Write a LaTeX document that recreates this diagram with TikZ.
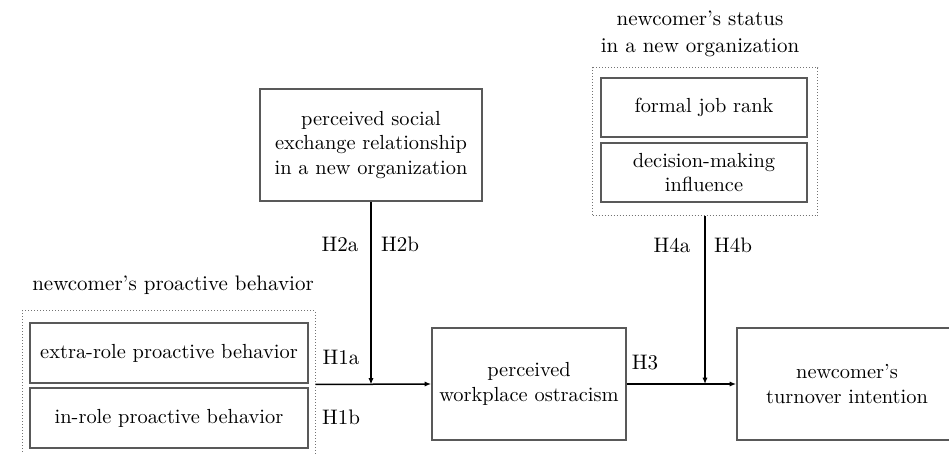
\documentclass[tikz,border=0pt]{standalone}
\usetikzlibrary{arrows.meta}
\usetikzlibrary{positioning}

\tikzset{
  varbox/.style={draw=black!65, line width=0.9pt, align=center, inner sep=0pt,
    font=\fontsize{10.2}{12.3}\selectfont},
  grpbox/.style={draw=black!55, densely dotted, line width=0.5pt, inner sep=0pt},
  hyp/.style={font=\fontsize{10.5}{12}\selectfont, inner sep=0pt},
  grplabel/.style={font=\fontsize{10.5}{13.5}\selectfont, align=center, inner sep=0pt},
  link/.style={draw=black, line width=0.75pt, -{Latex[length=3.2pt,width=2.6pt]}}
}

\begin{document}
\begin{tikzpicture}[x=0.5pt, y=-0.5pt]
        \useasboundingbox (0, 0) rectangle (949, 454);

        % proactive behavior group
        \node [grplabel] (proLbl) at (173, 285) {newcomer's proactive behavior};
        \node [grpbox, minimum width=146.5pt, minimum height=73.5pt] (proGrp) at (168.5, 384.5) {};
        \node [varbox, minimum width=139pt, minimum height=30pt] (extra) at (169, 353) {extra-role proactive behavior};
        \node [varbox, minimum width=139pt, minimum height=30pt] (inrole) at (169, 418) {in-role proactive behavior};
        \node [hyp] (h1a) at (341, 357) {H1a};
        \node [hyp] (h1b) at (341, 417) {H1b};

        % social exchange moderator
        \node [varbox, minimum width=111pt, minimum height=56pt] (social) at (371, 145)
            {perceived social\\exchange relationship\\in a new organization};
        \node [hyp] (h2a) at (340, 244) {H2a};
        \node [hyp] (h2b) at (400, 244) {H2b};

        % mediator and outcome
        \node [varbox, minimum width=97pt, minimum height=56pt] (ostr) at (529, 384)
            {perceived\\workplace ostracism};
        \node [hyp] (h3) at (645, 363) {H3};
        \node [varbox, minimum width=110pt, minimum height=56pt] (turn) at (847, 384)
            {newcomer's\\turnover intention};

        % status group
        \node [grplabel] (staLbl) at (700, 33.5) {newcomer's status\\in a new organization};
        \node [grpbox, minimum width=112.5pt, minimum height=74pt] (staGrp) at (705, 142) {};
        \node [varbox, minimum width=103pt, minimum height=29.5pt] (rank) at (704, 107.5) {formal job rank};
        \node [varbox, minimum width=103pt, minimum height=29.5pt] (infl) at (704, 172.5) {decision-making\\influence};
        \node [hyp] (h4a) at (672, 245) {H4a};
        \node [hyp] (h4b) at (733, 245) {H4b};

        % connectors
        \coordinate (j1) at (social.south |- proGrp.east);
        \coordinate (j2) at (staGrp.south |- ostr.east);
        \draw [link] (proGrp.east) -- (ostr.west);
        \draw [link] (social.south) -- (j1);
        \draw [link] (ostr.east) -- (turn.west);
        \draw [link] (staGrp.south) -- (j2);
    \end{tikzpicture}
\end{document}
